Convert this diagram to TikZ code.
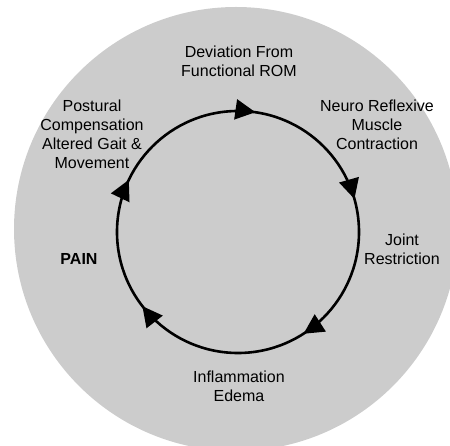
\documentclass[tikz,border=0pt]{standalone}
\usepackage{fontspec}
\setmainfont{Liberation Sans}
\usetikzlibrary{arrows.meta,decorations.markings}

\begin{document}
\begin{tikzpicture}[x=1pt,y=1pt]
                \tikzstyle{lbl}=[align=center, inner sep=0pt, font=\fontsize{16}{19}\selectfont]
                \tikzstyle{cycle}=[line width=2.6pt, postaction={decorate}, decoration={markings,
                    mark=at position 0.071 with {\arrow{Triangle[length=20pt,width=20pt]}},
                    mark=at position 0.273 with {\arrow{Triangle[length=20pt,width=20pt]}},
                    mark=at position 0.456 with {\arrow{Triangle[length=20pt,width=20pt]}},
                    mark=at position 0.659 with {\arrow{Triangle[length=20pt,width=20pt]}},
                    mark=at position 0.895 with {\arrow{Triangle[length=20pt,width=20pt]}}}]

                \useasboundingbox (0,0) rectangle (450,446);
                \clip (0,0) rectangle (450,446);
                \fill[gray!40] (236,217) circle[radius=222];

                \coordinate (c) at (238,214);
                \draw[cycle] (c) ++(180:121) arc[start angle=180, end angle=-180, radius=121];

                \node[lbl] (dev) at (239,385) {Deviation From\\Functional ROM};
                \node[lbl] (neuro) at (377,321) {Neuro Reflexive\\Muscle\\Contraction};
                \node[lbl] (joint) at (402,197) {Joint\\Restriction};
                \node[lbl] (infl) at (239,60) {Inflammation\\Edema};
                \node[lbl, font=\fontsize{16}{19}\selectfont\bfseries] (pain) at (79,187) {PAIN};
                \node[lbl] (post) at (92,312) {Postural\\Compensation\\Altered Gait \&\\Movement};
\end{tikzpicture}
\end{document}
